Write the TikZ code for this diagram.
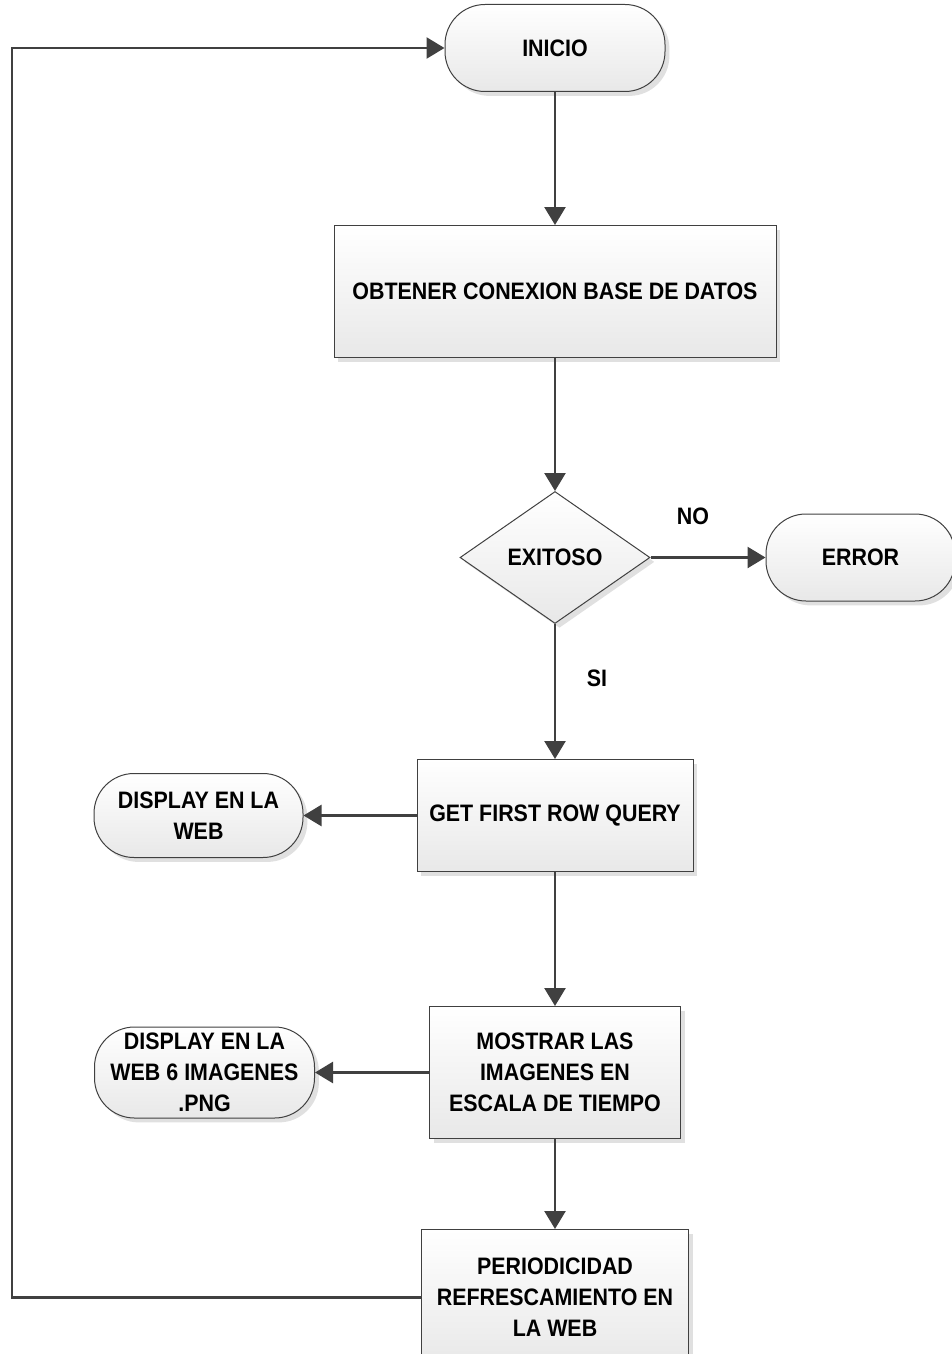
\documentclass[tikz,border=0pt]{standalone}
\usepackage{fontspec}
\setmainfont{Liberation Sans}[FakeStretch=0.9]
\usetikzlibrary{positioning}
\usetikzlibrary{shapes.geometric}
\usetikzlibrary{shadows}
\usetikzlibrary{arrows.meta}

\begin{document}
\begin{tikzpicture}[font=\fontsize{11.9}{15.5}\selectfont\bfseries] %% diagrama de flujo
	\tikzstyle{base}=[draw=black!75,line width=0.5pt,top color=white,bottom color=black!9,drop shadow={shadow xshift=2.2pt,shadow yshift=-2.2pt,fill=black!12,opacity=1},align=center,inner sep=2pt]
	\tikzstyle{caja}=[base,rectangle]
	\tikzstyle{term}=[base,rectangle,rounded corners=20pt]
	\tikzstyle{decision}=[base,diamond,minimum width=95pt,minimum height=66pt,inner sep=0pt]
	\tikzstyle{flecha}=[draw=black!75,line width=1.3pt,-{Triangle[length=9pt,width=10.5pt]}]
	\useasboundingbox (0,0) rectangle (476pt,-677pt);
	% cadena principal
	\node[term,minimum width=110pt,minimum height=43.5pt] (inicio) at (277.5pt,-24pt) {INICIO};
	\node[caja,minimum width=221pt,minimum height=66pt,below=66.5pt of inicio] (conexion) {OBTENER CONEXION BASE DE DATOS};
	\node[decision,below=66.5pt of conexion] (exitoso) {EXITOSO};
	\node[term,minimum width=94.5pt,minimum height=43.5pt,right=57.5pt of exitoso] (error) {ERROR};
	\node[caja,minimum width=138pt,minimum height=56pt,below=67.5pt of exitoso] (consulta) {GET FIRST ROW QUERY};
	\node[term,minimum width=104.5pt,minimum height=42pt,left=56.5pt of consulta] (display) {DISPLAY EN LA\\WEB};
	\node[caja,minimum width=125.5pt,minimum height=66pt,below=67pt of consulta] (mostrar) {MOSTRAR LAS\\IMAGENES EN\\ESCALA DE TIEMPO};
	\node[term,minimum width=110pt,minimum height=45.5pt,left=57pt of mostrar] (displaypng) {DISPLAY EN LA\\WEB 6 IMAGENES\\.PNG};
	\node[caja,minimum width=133.5pt,minimum height=68pt,below=45pt of mostrar] (periodo) {PERIODICIDAD\\REFRESCAMIENTO EN\\LA WEB};
	% conectores
	\draw[flecha] (inicio) -- (conexion);
	\draw[flecha] (conexion) -- (exitoso);
	\draw[flecha] (exitoso) -- node[pos=0.37,yshift=20.5pt] (lblno) {NO} (error);
	\draw[flecha] (exitoso) -- node[pos=0.4,xshift=21pt] (lblsi) {SI} (consulta);
	\draw[flecha] (consulta) -- (display);
	\draw[flecha] (consulta) -- (mostrar);
	\draw[flecha] (mostrar) -- (displaypng);
	\draw[flecha] (mostrar) -- (periodo);
	\coordinate (retorno) at (6pt,0);
	\draw[flecha] (periodo.west) -- (periodo.west -| retorno) |- (inicio.west);
\end{tikzpicture}
\end{document}
